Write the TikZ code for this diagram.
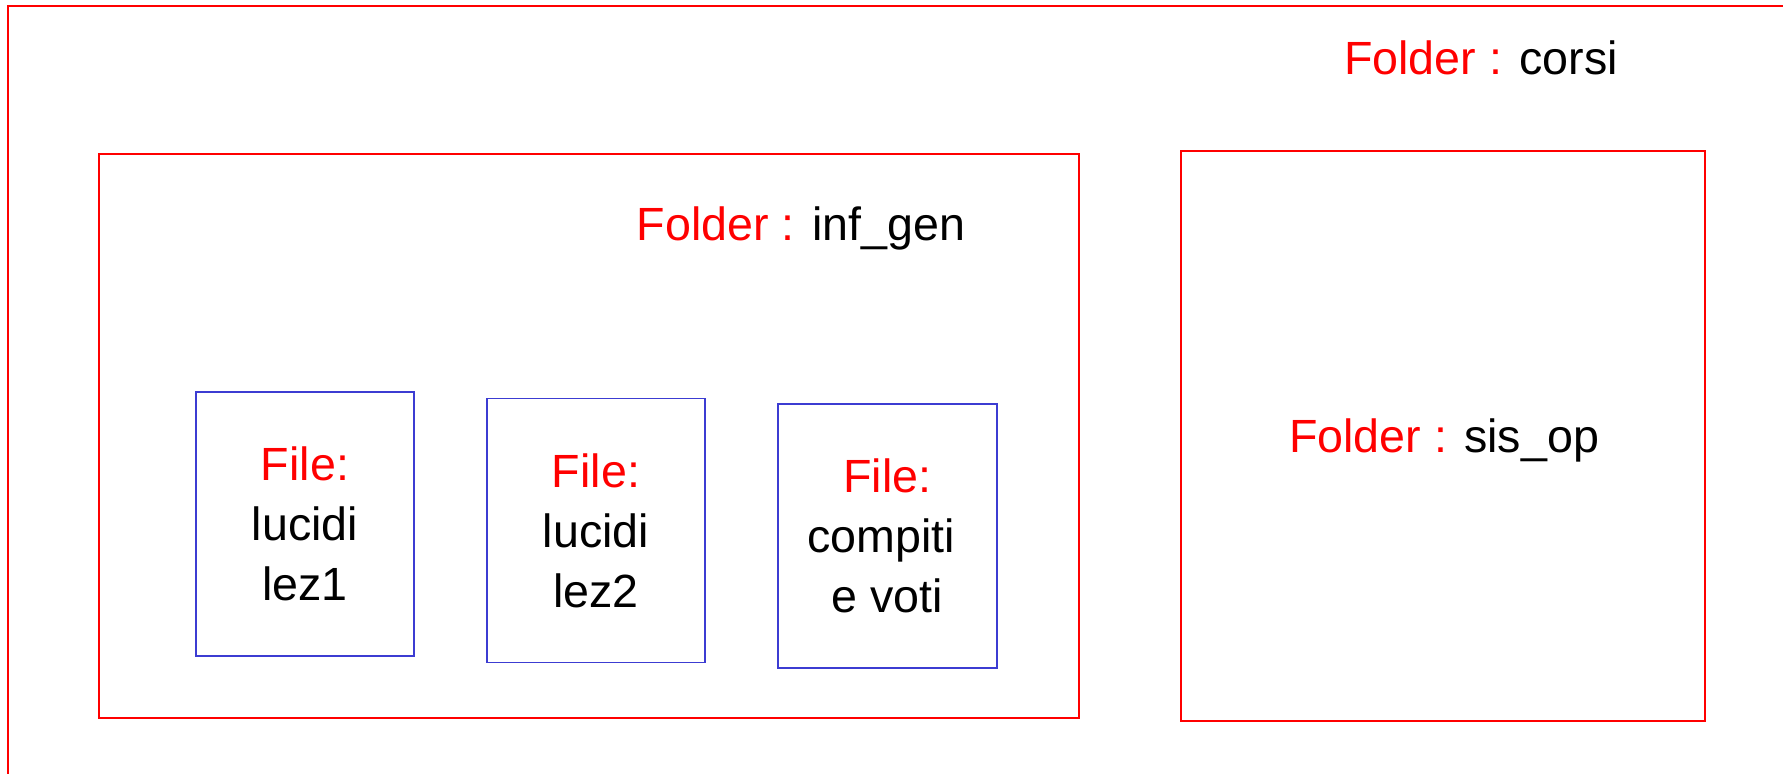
\documentclass[tikz,border=0pt]{standalone}
\usepackage{fontspec}
\setmainfont{Liberation Sans}
\definecolor{fileblue}{RGB}{60,60,210}
\begin{document}
\begin{tikzpicture}[x=0.5pt,y=-0.5pt,
  every node/.style={font=\fontsize{23.3}{30}\selectfont},
  folderbox/.style={draw=red,line width=0.6pt,inner sep=0pt,outer sep=0pt},
  filebox/.style={draw=fileblue,line width=0.6pt,inner sep=0pt,outer sep=0pt,
    minimum width=109pt,minimum height=132pt,align=center},
  lbl/.style={anchor=base,inner sep=0pt}]
\useasboundingbox (0,0) rectangle (1783,773);
\clip (0,0) rectangle (1783,773);
% outer folder (extends beyond the picture)
\node[folderbox,anchor=north west,minimum width=950pt,minimum height=420pt] (corsi) at (8,6) {};
\node[lbl] (corsilbl) at (1481,74) {{\color{red}Folder :} corsi};
% inf_gen folder
\node[folderbox,minimum width=490pt,minimum height=282pt] (infgen) at (589,436) {};
\node[lbl] (infgenlbl) at (801,240) {{\color{red}Folder :} inf\_gen};
% sis_op folder
\node[folderbox,minimum width=262pt,minimum height=285pt] (sisop) at (1443,436) {};
\node[lbl] (sisoplbl) at (1444,452) {{\color{red}Folder :} sis\_op};
% files
\node[filebox] (f1) at (305,524) {{\color{red}File:}\\lucidi\\lez1};
\node[filebox] (f2) at (596,530.5) {{\color{red}File:}\\lucidi\\lez2};
\node[filebox,minimum width=109.5pt] (f3) at (887.5,536) {{\color{red}File:}\\compiti\rule{0.278em}{0pt}\\e voti};
\end{tikzpicture}
\end{document}
